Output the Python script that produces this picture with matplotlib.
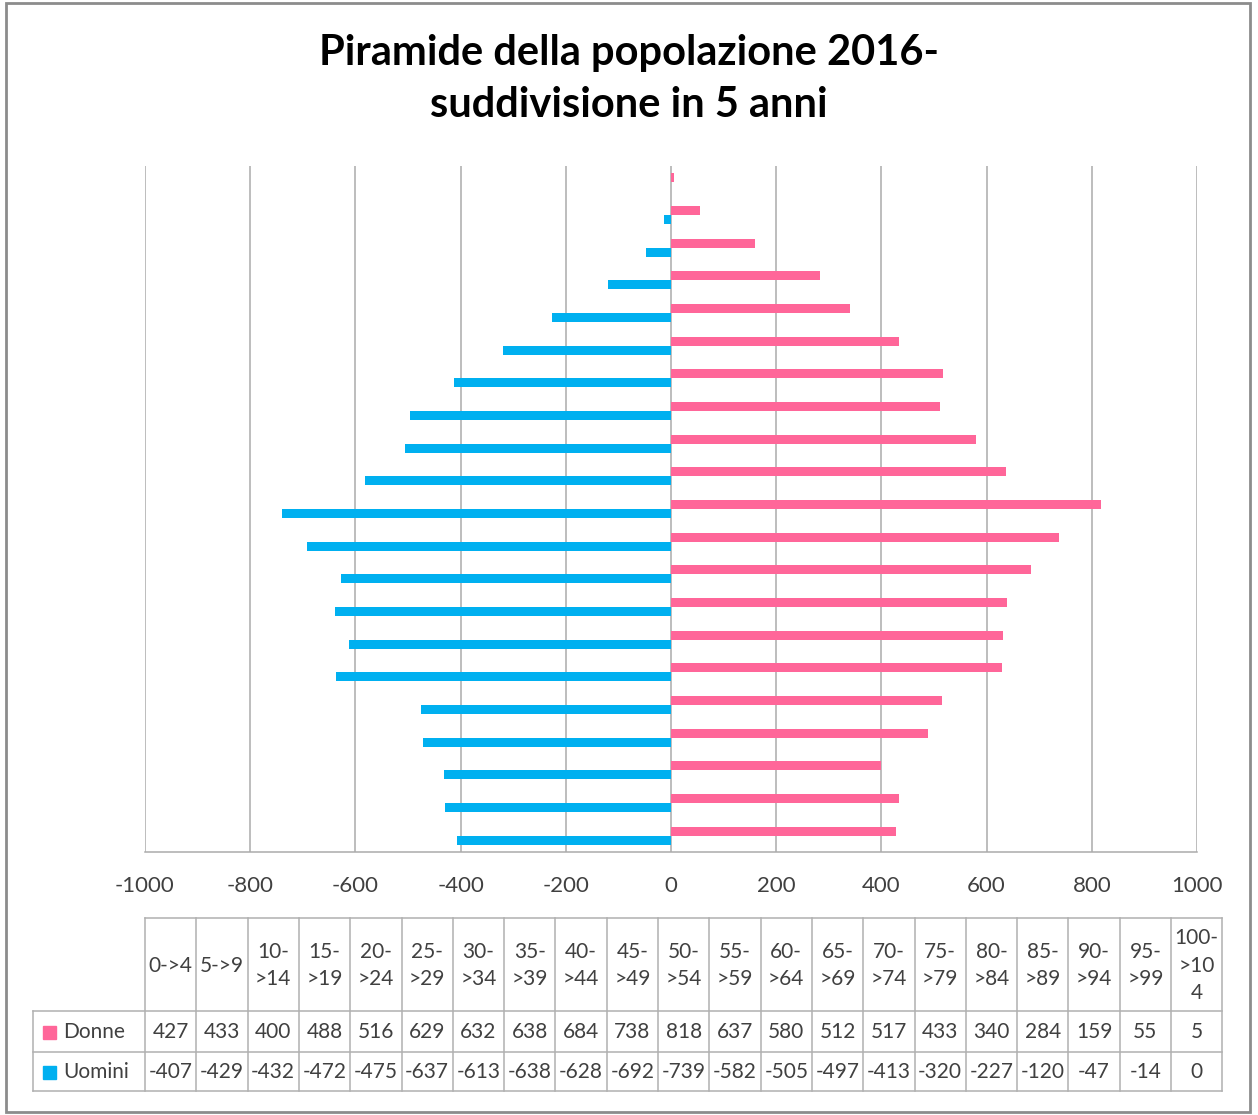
import matplotlib
matplotlib.use("Agg")
import matplotlib.pyplot as plt
import numpy as np

plt.rcParams['font.family'] = ['Lato', 'DejaVu Sans']

#------------------------------
# dati

categorie = ["0->4", "5->9", "10->14", "15->19", "20->24", "25->29", "30->34",
             "35->39", "40->44", "45->49", "50->54", "55->59", "60->64", "65->69",
             "70->74", "75->79", "80->84", "85->89", "90->94", "95->99", "100->104"]
donne = [427, 433, 400, 488, 516, 629, 632, 638, 684, 738, 818, 637, 580, 512,
         517, 433, 340, 284, 159, 55, 5]
uomini = [-407, -429, -432, -472, -475, -637, -613, -638, -628, -692, -739, -582,
          -505, -497, -413, -320, -227, -120, -47, -14, 0]
serie = ["Donne", "Uomini"]
xticks = list(range(-1000, 1001, 200))

titolo = "Piramide della popolazione 2016-\nsuddivisione in 5 anni"

c_donne = "#FF6699"
c_uomini = "#00B0F0"
c_grid = "#ABABAB"
c_text = "#404040"

W, H = 1258, 1115
fig = plt.figure(figsize=(W / 100, H / 100), dpi=100)

#------------------------------
# grafico

ax = fig.add_axes([145 / W, 1 - 852 / H, (1197 - 145) / W, (852 - 166) / H])
y = np.arange(len(categorie))
ax.barh(y + 0.14, donne, height=0.28, color=c_donne, zorder=3)
ax.barh(y - 0.14, uomini, height=0.28, color=c_uomini, zorder=3)
ax.set_xlim(-1000, 1000)
ax.set_ylim(-0.5, len(categorie) - 0.5)
ax.set_xticks(xticks)
ax.set_xticklabels([str(v) for v in xticks])
ax.set_yticks([])
ax.xaxis.grid(True, color=c_grid, linewidth=1.1, zorder=0)
ax.tick_params(axis="x", length=0, pad=17, labelsize=16, labelcolor=c_text)
for s in ["top", "left", "right"]:
    ax.spines[s].set_visible(False)
ax.spines["bottom"].set_color(c_grid)
ax.spines["bottom"].set_linewidth(1.1)

#------------------------------
# titolo, cornice e tabella (coordinate in pixel)

ov = fig.add_axes([0, 0, 1, 1], zorder=-1)
ov.set_xlim(0, W)
ov.set_ylim(H, 0)
ov.axis("off")

ov.add_patch(plt.Rectangle((6, 3), 1244, 1109, fill=False, edgecolor="#8C8C8C", linewidth=2))
ov.text(629, 79, titolo, ha="center", va="center", fontsize=30, fontweight="bold",
        color="black", linespacing=1.42)

tab = fig.add_axes([0, 0, 1, 1])
tab.set_xlim(0, W)
tab.set_ylim(H, 0)
tab.axis("off")

x0, cw = 145, 51.3
xl = 33
r = [918, 1011, 1052, 1091]
n = len(categorie)
x1 = x0 + n * cw
lc = "#B0B0B0"

tab.plot([x0, x1], [r[0], r[0]], color=lc, lw=1.1)
for yy in r[1:]:
    tab.plot([xl, x1], [yy, yy], color=lc, lw=1.1)
tab.plot([xl, xl], [r[1], r[3]], color=lc, lw=1.1)
for i in range(n + 1):
    xx = x0 + i * cw
    tab.plot([xx, xx], [r[0], r[3]], color=lc, lw=1.1)


def spezza(s):
    a, b = s.split("-", 1)
    if len(s) <= 4:
        return s
    if len(b) > 3:
        return a + "-\n" + b[:3] + "\n" + b[3:]
    return a + "-\n" + b


for i, cat in enumerate(categorie):
    cx = x0 + (i + 0.5) * cw
    tab.text(cx, (r[0] + r[1]) / 2 + 1, spezza(cat), ha="center", va="center",
             fontsize=15, color=c_text, linespacing=1.45)
    tab.text(cx, (r[1] + r[2]) / 2, str(donne[i]), ha="center", va="center",
             fontsize=15, color=c_text)
    tab.text(cx, (r[2] + r[3]) / 2, str(uomini[i]), ha="center", va="center",
             fontsize=15, color=c_text)

for k, (nome, col) in enumerate(zip(serie, [c_donne, c_uomini])):
    yc = (r[1 + k] + r[2 + k]) / 2
    tab.add_patch(plt.Rectangle((43, yc - 6), 13, 13, color=col))
    tab.text(63, yc, nome, ha="left", va="center", fontsize=15, color=c_text)

fig.savefig("out.png", dpi=100)
